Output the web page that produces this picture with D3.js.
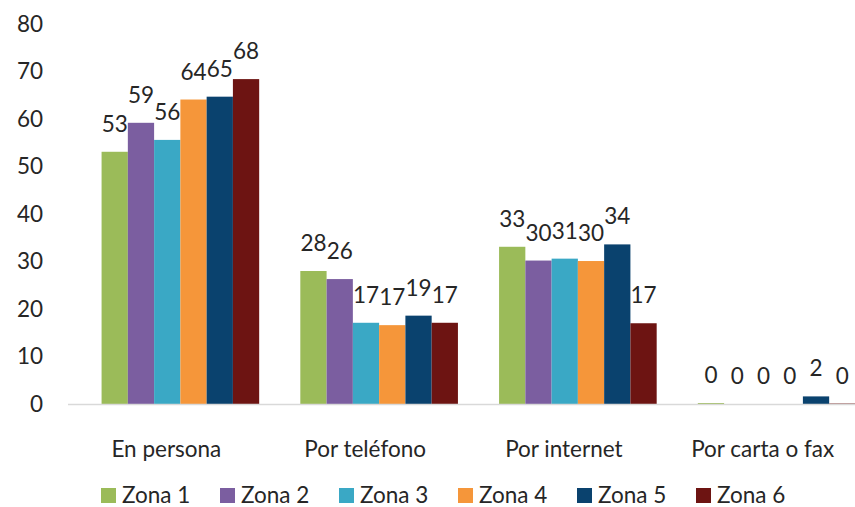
<!DOCTYPE html>
<html>
<head>
<meta charset="utf-8">
<script src="https://cdn.jsdelivr.net/npm/d3@7"></script>
<style>
  body { margin: 0; background: #fff; }
  text { font-family: Lato, "Open Sans", sans-serif; fill: #262626; }
</style>
</head>
<body>
<div class="chart"></div>
<script>
const categories = ["En persona", "Por teléfono", "Por internet", "Por carta o fax"];
const zones = ["Zona 1", "Zona 2", "Zona 3", "Zona 4", "Zona 5", "Zona 6"];
const zona1 = [53.1, 28.0, 33.1, 0.2];
const zona2 = [59.2, 26.3, 30.2, 0];
const zona3 = [55.6, 17.1, 30.6, 0];
const zona4 = [64.1, 16.6, 30.1, 0];
const zona5 = [64.7, 18.6, 33.6, 1.6];
const zona6 = [68.4, 17.1, 17.0, 0.1];
const yTicks = [0, 10, 20, 30, 40, 50, 60, 70, 80];

const series = [zona1, zona2, zona3, zona4, zona5, zona6];
const colors = ["#9bbb59", "#7b5ea0", "#3aa8c5", "#f5963a", "#0a426e", "#6d1412"];

const width = 855, height = 507;
const fontSize = "22.5px";

const svg = d3.select(".chart").append("svg")
  .attr("width", width)
  .attr("height", height);

const x0 = d3.scaleBand()
  .domain(categories)
  .range([81, 876])
  .paddingInner(0.207)
  .paddingOuter(0.1035);

const x1 = d3.scaleBand()
  .domain(zones)
  .range([0, x0.bandwidth()]);

const y = d3.scaleLinear()
  .domain([0, 80])
  .range([404, 24]);

// y tick labels, no axis line
const yAxis = svg.append("g")
  .attr("transform", "translate(43,0)")
  .call(d3.axisLeft(y).tickValues(yTicks).tickSize(0).tickPadding(0));
yAxis.select(".domain").remove();
yAxis.selectAll("text")
  .style("font-size", fontSize)
  .style("font-family", "Lato, sans-serif")
  .attr("fill", "#262626");

const rows = [];
categories.forEach((c, ci) => {
  zones.forEach((z, zi) => {
    rows.push({ cat: c, zone: z, value: series[zi][ci], color: colors[zi] });
  });
});

svg.append("g")
  .selectAll("rect")
  .data(rows)
  .enter().append("rect")
  .attr("x", d => x0(d.cat) + x1(d.zone))
  .attr("width", x1.bandwidth())
  .attr("y", d => y(d.value))
  .attr("height", d => y(0) - y(d.value))
  .attr("fill", d => d.color);

// baseline
svg.append("line")
  .attr("x1", 68)
  .attr("x2", width)
  .attr("y1", y(0) + 0.5)
  .attr("y2", y(0) + 0.5)
  .attr("stroke", "#d9d9d9")
  .attr("stroke-width", 1.5);

// data labels
svg.append("g")
  .selectAll("text")
  .data(rows)
  .enter().append("text")
  .attr("x", d => x0(d.cat) + x1(d.zone) + x1.bandwidth() / 2)
  .attr("y", d => y(d.value) - 20)
  .attr("text-anchor", "middle")
  .style("font-size", fontSize)
  .text(d => d3.format(".0f")(d.value));

// category labels
svg.append("g")
  .selectAll("text")
  .data(categories)
  .enter().append("text")
  .attr("x", d => x0(d) + x0.bandwidth() / 2 - 14)
  .attr("y", 457)
  .attr("text-anchor", "middle")
  .style("font-size", fontSize)
  .text(d => d);

// legend
const legend = svg.append("g")
  .selectAll("g")
  .data(zones)
  .enter().append("g")
  .attr("transform", (d, i) => "translate(" + (101 + i * 119) + ",488)");

legend.append("rect")
  .attr("width", 15)
  .attr("height", 15)
  .attr("fill", (d, i) => colors[i]);

legend.append("text")
  .attr("x", 21)
  .attr("y", 15)
  .style("font-size", fontSize)
  .text(d => d);
</script>
</body>
</html>
